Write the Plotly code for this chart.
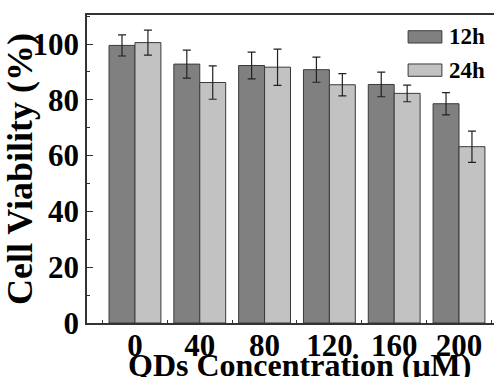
import plotly.graph_objects as go

categories = ["0", "40", "80", "120", "160", "200"]
viab_12h = [99.5, 92.8, 92.3, 90.8, 85.5, 78.6]
err_12h = [3.8, 5.0, 4.8, 4.5, 4.4, 4.0]
viab_24h = [100.5, 86.2, 91.7, 85.4, 82.3, 63.2]
err_24h = [4.5, 6.0, 6.5, 4.0, 3.0, 5.6]
series_names = ["12h", "24h"]
y_ticks = [0, 20, 40, 60, 80, 100]
x_title = "QDs Concentration (μM)"
y_title = "Cell Viability (%)"

FONT = "Liberation Serif"
c12 = "#808080"
c24 = "#c2c2c2"
edge = "#3a3a3a"

fig = go.Figure()
for name, vals, errs, col in [(series_names[0], viab_12h, err_12h, c12),
                              (series_names[1], viab_24h, err_24h, c24)]:
    fig.add_trace(go.Bar(
        name=name, x=categories, y=vals,
        marker=dict(color=col, line=dict(color=edge, width=1)),
        error_y=dict(type="data", array=errs, color="#222", thickness=1.2, width=4),
        showlegend=False,
    ))

fig.update_layout(
    width=494, height=377,
    margin=dict(l=87, r=0, t=15, b=54),
    barmode="group", bargap=0.2, bargroupgap=0,
    plot_bgcolor="white", paper_bgcolor="white",
    font=dict(family=FONT, color="black"),
    xaxis=dict(
        type="category", range=[-0.74, 5.54], automargin=False,
        showline=True, linecolor="#333", linewidth=1.5, mirror=True,
        ticks="inside", tickson="boundaries", ticklen=3, tickcolor="#333",
        ticklabelstandoff=-6,
        tickfont=dict(family=FONT, size=31, color="black", weight="bold"),
        showgrid=False,
    ),
    yaxis=dict(
        range=[0, 110.4], automargin=False,
        tickvals=y_ticks,
        showline=True, linecolor="#333", linewidth=1.5,
        ticks="inside", ticklen=6, tickcolor="#333",
        minor=dict(dtick=10, ticks="inside", ticklen=3, tickcolor="#333"),
        tickfont=dict(family=FONT, size=31, color="black", weight="bold"),
        title=dict(text=f"<b>{y_title}</b>", font=dict(family=FONT, size=36), standoff=0),
        showgrid=False, zeroline=False,
    ),
)

# x-axis title (placed as annotation so it can sit partly below the frame like the reference)
fig.add_annotation(xref="paper", yref="paper", x=0.523, y=-0.072, xanchor="center", yanchor="top",
                   text=f"<b>{x_title}</b>", showarrow=False,
                   font=dict(family=FONT, size=32, color="black"))

# legend drawn as boxes + labels (paper coords)
legend_y = [0.929, 0.821]
for i, (name, col) in enumerate(zip(series_names, [c12, c24])):
    yc = legend_y[i]
    fig.add_shape(type="rect", xref="paper", yref="paper",
                  x0=0.789, x1=0.872, y0=yc - 0.02, y1=yc + 0.02,
                  fillcolor=col, line=dict(color=edge, width=1))
    fig.add_annotation(xref="paper", yref="paper", x=0.885, y=yc, xanchor="left", yanchor="middle",
                       text=f"<b>{name}</b>", showarrow=False,
                       font=dict(family=FONT, size=23, color="black"))

fig.write_html("out.html", config={"displayModeBar": False},
               post_script="document.body.style.margin='0';document.body.style.overflow='hidden';")
